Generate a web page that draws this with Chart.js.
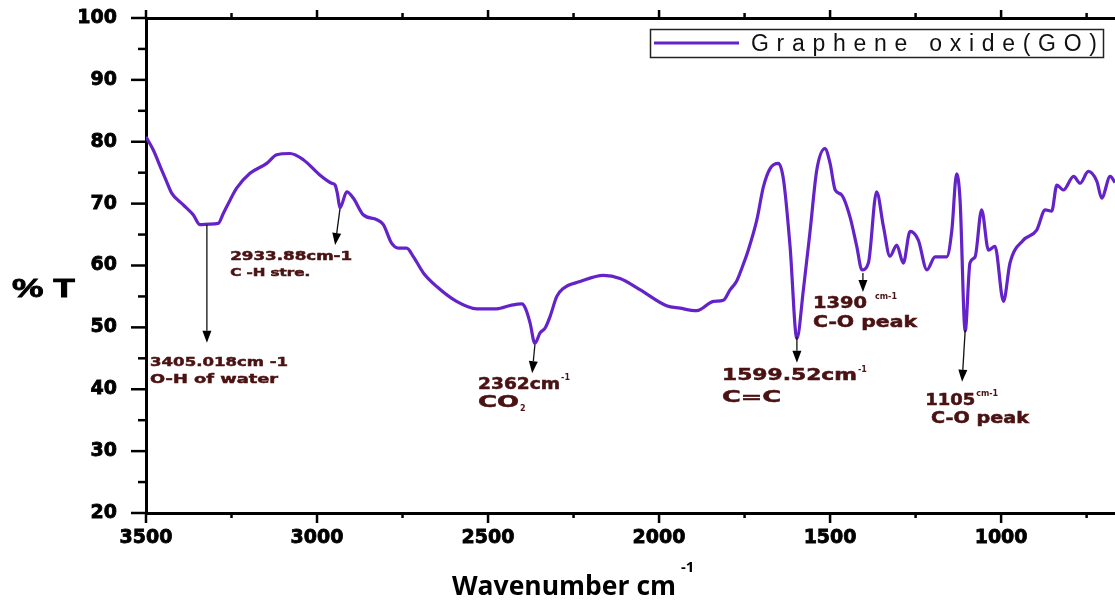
<!DOCTYPE html>
<html><head><meta charset="utf-8">
<script src="https://cdn.jsdelivr.net/npm/chart.js@4.4.1/dist/chart.umd.min.js"></script>
<style>html,body{margin:0;padding:0;background:#fff;overflow:hidden;} #wrap{width:1115px;height:606px;}</style>
</head><body><div id="wrap"><canvas id="c" width="1115" height="606"></canvas></div>
<script>
// ---- data ----
const wavenumbers = [3500,3479,3454,3440,3425,3391,3362,3342,3315,3289,3274,3254,3235,3196,3147,3118,3079,3040,2991,2957,2947,2940,2933,2913,2894,2865,2825,2806,2782,2762,2738,2718,2689,2650,2592,2533,2475,2431,2401,2390,2377,2363,2348,2333,2319,2299,2280,2231,2163,2114,2056,1978,1939,1890,1841,1812,1792,1773,1755,1739,1714,1695,1675,1651,1636,1617,1597,1578,1558,1539,1515,1500,1485,1466,1442,1422,1407,1388,1364,1344,1325,1305,1286,1266,1242,1217,1193,1159,1144,1130,1120,1105,1091,1076,1057,1037,1018,993,974,935,896,871,852,837,818,788,769,745,720,706,681,667];
const transmittance = [80.8,78.7,75.4,73.6,71.7,69.8,68.2,66.6,66.7,66.8,68.4,70.6,72.5,74.9,76.5,77.9,78.1,77.1,74.6,73.3,73.0,71.5,69.3,71.9,70.9,68.2,67.4,66.6,63.6,62.8,62.8,61.4,58.8,56.6,54.2,53.0,53.0,53.6,53.8,53.0,50.7,47.4,49.1,49.9,51.7,55.0,56.3,57.4,58.4,57.9,56.1,53.5,53.1,52.7,54.2,54.4,56.1,57.5,60.0,62.5,67.4,72.7,75.7,76.5,73.8,63.1,48.2,56.1,65.8,75.4,78.9,76.5,72.2,71.4,67.9,63.1,59.3,60.4,71.9,66.3,61.5,63.3,60.4,65.5,64.1,59.3,61.4,61.4,65.7,74.8,70.6,49.4,60.4,61.4,69.0,62.5,63.1,54.2,60.4,64.1,65.7,69.0,68.8,73.0,72.2,74.4,73.3,75.2,73.6,70.9,74.4,73.4];
const xTickLabels = [3500,3000,2500,2000,1500,1000];
const xMinorTicks = [3250,2750,2250,1750,1250,750];
const yTickLabels = [20,30,40,50,60,70,80,90,100];
const yMinorTicks = [25,35,45,55,65,75,85,95];
const seriesName = 'Graphene oxide(GO)';
const xTitle = 'Wavenumber cm';
const xTitleSup = '-1';
const yTitle = '% T';

// peak annotations (arrow from/to and label anchor in data units)
const peakAnnotations = [
  {from:[3322,66.6], to:[3322,47.5], lines:[
    {text:'3405.018cm -1', at:[3488,43.8], size:13, w:138},
    {text:'O-H of water', at:[3488,41.0], size:13, w:128}]},
  {from:[2933,69.1], to:[2947,63.3], lines:[
    {text:'2933.88cm-1', at:[3254,60.9], size:12, w:122},
    {text:'C -H stre.', at:[3254,58.3], size:10, w:80}]},
  {from:[2363,47.2], to:[2371,42.6], lines:[
    {text:'2362cm', at:[2529,40.1], size:15, w:82, sup:'-1'},
    {text:'CO', at:[2529,37.2], size:15, w:41, sub:'2'}]},
  {from:[1597,48.5], to:[1597,44.3], lines:[
    {text:'1599.52cm', at:[1816,41.5], size:15, w:135, sup:'-1'},
    {text:'C=C', at:[1816,38.0], size:15, w:59}]},
  {from:[1404,58.8], to:[1404,55.7], lines:[
    {text:'1390', at:[1550,53.2], size:15, w:54, sup:'cm-1', supGap:8},
    {text:'C-O peak', at:[1550,50.1], size:15, w:104}]},
  {from:[1105,49.6], to:[1114,41.2], lines:[
    {text:'1105', at:[1222,37.5], size:15, w:50, sup:'cm-1', supGap:1},
    {text:'C-O peak', at:[1205,34.6], size:15, w:98}]}
];

const LINE_COLOR = '#6422c9';
const NOTE_COLOR = '#4a1212';

function drawFit(ctx, text, x, y, font, w, stroke) {
  ctx.save();
  ctx.font = font;
  const m = ctx.measureText(text).width;
  const s = w ? w / m : 1;
  ctx.translate(x, y);
  ctx.scale(s, 1);
  ctx.fillText(text, 0, 0);
  if (stroke) { ctx.strokeStyle = ctx.fillStyle; ctx.lineWidth = stroke; ctx.strokeText(text, 0, 0); }
  ctx.restore();
  return m * s;
}

const decorations = {
  id: 'decorations',
  afterDatasetsDraw(chart) {
    const ctx = chart.ctx, xs = chart.scales.x, ys = chart.scales.y;
    ctx.save();
    ctx.textBaseline = 'alphabetic';
    ctx.textAlign = 'left';
    peakAnnotations.forEach(a => {
      const x1 = xs.getPixelForValue(a.from[0]), y1 = ys.getPixelForValue(a.from[1]);
      const x2 = xs.getPixelForValue(a.to[0]), y2 = ys.getPixelForValue(a.to[1]);
      const ang = Math.atan2(y2 - y1, x2 - x1);
      const hl = 12, hw = 4.5;
      const bx = x2 - hl * Math.cos(ang), by = y2 - hl * Math.sin(ang);
      ctx.strokeStyle = '#111'; ctx.lineWidth = 1.3;
      ctx.beginPath(); ctx.moveTo(x1, y1); ctx.lineTo(bx, by); ctx.stroke();
      ctx.fillStyle = '#000';
      ctx.beginPath();
      ctx.moveTo(x2, y2);
      ctx.lineTo(bx + hw * Math.sin(ang), by - hw * Math.cos(ang));
      ctx.lineTo(bx - hw * Math.sin(ang), by + hw * Math.cos(ang));
      ctx.closePath(); ctx.fill();
      ctx.fillStyle = NOTE_COLOR;
      a.lines.forEach(l => {
        const x = xs.getPixelForValue(l.at[0]), y = ys.getPixelForValue(l.at[1]);
        const font = 'bold ' + l.size + 'px "DejaVu Sans"';
        const w = drawFit(ctx, l.text, x, y, font, l.w, 0.5);
        if (l.sup) {
          const g = l.supGap !== undefined ? l.supGap : 1;
          drawFit(ctx, l.sup, x + w + g, y - l.size * 0.55, 'bold ' + Math.round(l.size * 0.55) + 'px "DejaVu Sans"', null);
        }
        if (l.sub) {
          drawFit(ctx, l.sub, x + w + 1, y + 4, 'bold ' + Math.round(l.size * 0.55) + 'px "DejaVu Sans"', null);
        }
      });
    });
    ctx.restore();
  },
  afterDraw(chart) {
    const ctx = chart.ctx, xs = chart.scales.x, ys = chart.scales.y;
    const area = chart.chartArea;
    ctx.save();
    ctx.strokeStyle = '#000';
    ctx.lineWidth = 2.5;
    ctx.lineCap = 'butt';
    const vline = (x, ya, yb) => { ctx.beginPath(); ctx.moveTo(x, ya); ctx.lineTo(x, yb); ctx.stroke(); };
    const hline = (y, xa, xb) => { ctx.beginPath(); ctx.moveTo(xa, y); ctx.lineTo(xb, y); ctx.stroke(); };
    xTickLabels.forEach(v => { const x = xs.getPixelForValue(v); vline(x, area.bottom, area.bottom + 10); vline(x, area.top, area.top - 8); });
    xMinorTicks.forEach(v => { const x = xs.getPixelForValue(v); vline(x, area.bottom, area.bottom + 5); vline(x, area.top, area.top - 5); });
    yTickLabels.forEach(v => { const y = ys.getPixelForValue(v); hline(y, area.left, area.left - 15); });
    yMinorTicks.forEach(v => { const y = ys.getPixelForValue(v); hline(y, area.left, area.left - 8); });

    // legend
    ctx.lineWidth = 1.5;
    ctx.strokeStyle = '#222';
    ctx.strokeRect(650.5, 29.5, 453, 28);
    ctx.strokeStyle = LINE_COLOR; ctx.lineWidth = 3;
    hline(43, 654, 739);
    ctx.fillStyle = '#111';
    ctx.font = '23px "Liberation Sans"';
    ctx.textBaseline = 'alphabetic';
    const chars = seriesName.split('');
    const natural = chars.reduce((s, c) => s + ctx.measureText(c).width, 0);
    const extra = (346 - natural) / (chars.length - 1);
    let cx = 751;
    chars.forEach(c => { ctx.fillText(c, cx, 51); cx += ctx.measureText(c).width + extra; });

    // axis titles
    ctx.fillStyle = '#000';
    drawFit(ctx, yTitle, 12, 297, 'bold 26px "Liberation Sans"', 63, 0.8);
    const tw = drawFit(ctx, xTitle, 452, 595, 'bold 26px "Open Sans"', 224);
    drawFit(ctx, xTitleSup, 452 + tw + 5, 572, 'bold 15px "Open Sans"', null);
    ctx.restore();
  }
};

const tickFont = {family: '"DejaVu Sans"', weight: 'bold', size: 19};

new Chart(document.getElementById('c'), {
  type: 'line',
  data: {
    datasets: [{
      label: seriesName,
      data: wavenumbers.map((w, i) => ({x: w, y: transmittance[i]})),
      borderColor: LINE_COLOR,
      backgroundColor: LINE_COLOR,
      borderWidth: 3.2,
      pointRadius: 0,
      cubicInterpolationMode: 'monotone',
      fill: false
    }]
  },
  options: {
    responsive: false,
    devicePixelRatio: 1,
    animation: false,
    layout: {padding: 0},
    plugins: {legend: {display: false}, tooltip: {enabled: false}},
    scales: {
      x: {
        type: 'linear', position: 'bottom', reverse: true, min: 667, max: 3500,
        afterBuildTicks: s => { s.ticks = xTickLabels.map(v => ({value: v})); },
        ticks: {font: tickFont, color: '#000', padding: 14, maxRotation: 0, autoSkip: false, callback: v => String(v), textStrokeColor: '#000', textStrokeWidth: 0.8},
        grid: {display: false, drawTicks: false},
        border: {display: true, color: '#000', width: 3},
        afterFit: s => { s.height = 93; s.paddingLeft = 0; s.paddingRight = 0; }
      },
      xTop: {
        type: 'linear', position: 'top', reverse: true, min: 667, max: 3500,
        ticks: {display: false},
        grid: {display: false, drawTicks: false},
        border: {display: true, color: '#000', width: 3},
        afterFit: s => { s.height = 18; s.paddingLeft = 0; s.paddingRight = 0; }
      },
      y: {
        type: 'linear', position: 'left', min: 20, max: 100,
        afterBuildTicks: s => { s.ticks = yTickLabels.map(v => ({value: v})); },
        ticks: {font: tickFont, color: '#000', padding: 29, callback: v => String(v), textStrokeColor: '#000', textStrokeWidth: 0.8},
        grid: {display: false, drawTicks: false},
        border: {display: true, color: '#000', width: 3},
        afterFit: s => { s.width = 146; s.paddingTop = 0; s.paddingBottom = 0; }
      }
    }
  },
  plugins: [decorations]
});
</script>
</body></html>
